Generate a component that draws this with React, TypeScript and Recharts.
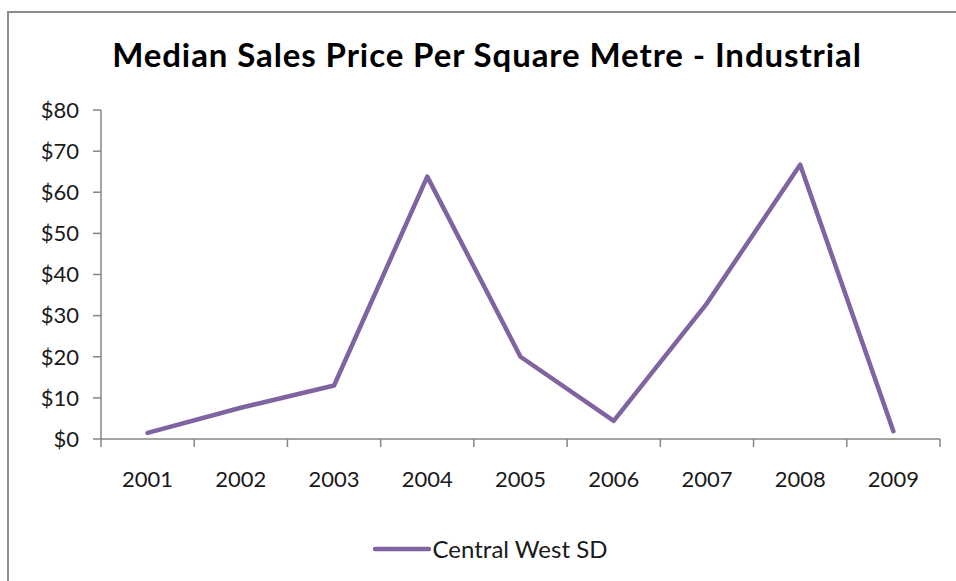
import React from 'react';
import { LineChart, Line, XAxis, YAxis, Legend } from 'recharts';

const years = ['2001', '2002', '2003', '2004', '2005', '2006', '2007', '2008', '2009'];
const centralWestSD = [1.5, 7.6, 13.0, 63.8, 20.0, 4.4, 33.0, 66.7, 1.9];
const yTicks = [0, 10, 20, 30, 40, 50, 60, 70, 80];
const seriesName = 'Central West SD';
const title = 'Median Sales Price Per Square Metre - Industrial';

const data = years.map((y, i) => ({ x: i + 0.5, year: y, value: centralWestSD[i] }));
const xBoundaries = years.map((_, i) => i).concat([years.length]);

const W = 956;
const H = 581;
const LEFT = 101;
const RIGHT_MARGIN = 16;
const PLOT_W = W - LEFT - RIGHT_MARGIN;
const STEP = PLOT_W / years.length;
const FONT = 'Lato, "Open Sans", sans-serif';
const AXIS = '#868686';
const PURPLE = '#8064A2';

const XTick = (props: any) => {
  const { x, y, payload } = props;
  const idx = payload.value as number;
  return (
    <g>
      <line x1={x} y1={y - 8} x2={x} y2={y} stroke={AXIS} strokeWidth={1.5} />
      {idx < years.length && (
        <text x={x + STEP / 2} y={y + 40} textAnchor="middle" fontSize={22} fontFamily={FONT} fill="#1a1a1a">
          {years[idx]}
        </text>
      )}
    </g>
  );
};

const LegendContent = () => (
  <div
    style={{
      display: 'flex',
      justifyContent: 'center',
      alignItems: 'center',
      fontFamily: FONT,
      fontSize: 24,
      color: '#1a1a1a',
      paddingTop: 10,
      paddingLeft: 40,
    }}
  >
    <svg width={58} height={10} style={{ marginRight: 2 }}>
      <line x1={2} y1={5} x2={56} y2={5} stroke={PURPLE} strokeWidth={4.5} strokeLinecap="round" />
    </svg>
    <span>{seriesName}</span>
  </div>
);

export default function App() {
  return (
    <div style={{ position: 'absolute', left: 0, top: 0, width: W, height: H, background: '#fff', overflow: 'hidden' }}>
      <div
        style={{
          position: 'absolute',
          left: 7,
          top: 11,
          width: W,
          height: H,
          borderTop: '2px solid #8c8c8c',
          borderLeft: '2px solid #8c8c8c',
          boxSizing: 'border-box',
        }}
      />
      <div
        style={{
          position: 'absolute',
          left: 0,
          top: 34,
          width: 974,
          textAlign: 'center',
          fontFamily: FONT,
          fontWeight: 700,
          fontSize: 33,
          letterSpacing: 0.9,
          color: '#000',
        }}
      >
        {title}
      </div>
      <div style={{ position: 'absolute', left: 0, top: 0 }}>
        <LineChart width={W} height={H} data={data} margin={{ top: 110, right: RIGHT_MARGIN, bottom: 0, left: 0 }}>
          <XAxis
            dataKey="x"
            type="number"
            domain={[0, years.length]}
            ticks={xBoundaries}
            interval={0}
            tick={<XTick />}
            tickLine={false}
            axisLine={{ stroke: AXIS, strokeWidth: 1.5 }}
            height={85}
          />
          <YAxis
            domain={[0, 80]}
            ticks={yTicks}
            interval={0}
            width={LEFT}
            tickSize={8}
            tickMargin={14}
            tickLine={{ stroke: AXIS, strokeWidth: 1.5 }}
            axisLine={{ stroke: AXIS, strokeWidth: 1.5 }}
            tickFormatter={(v: number) => `$${v}`}
            tick={{ fontSize: 22, fontFamily: FONT, fill: '#1a1a1a' }}
          />
          <Legend verticalAlign="bottom" height={57} content={<LegendContent />} />
          <Line
            type="linear"
            dataKey="value"
            name={seriesName}
            stroke={PURPLE}
            strokeWidth={4.5}
            dot={false}
            isAnimationActive={false}
            strokeLinecap="round"
            strokeLinejoin="round"
          />
        </LineChart>
      </div>
    </div>
  );
}
